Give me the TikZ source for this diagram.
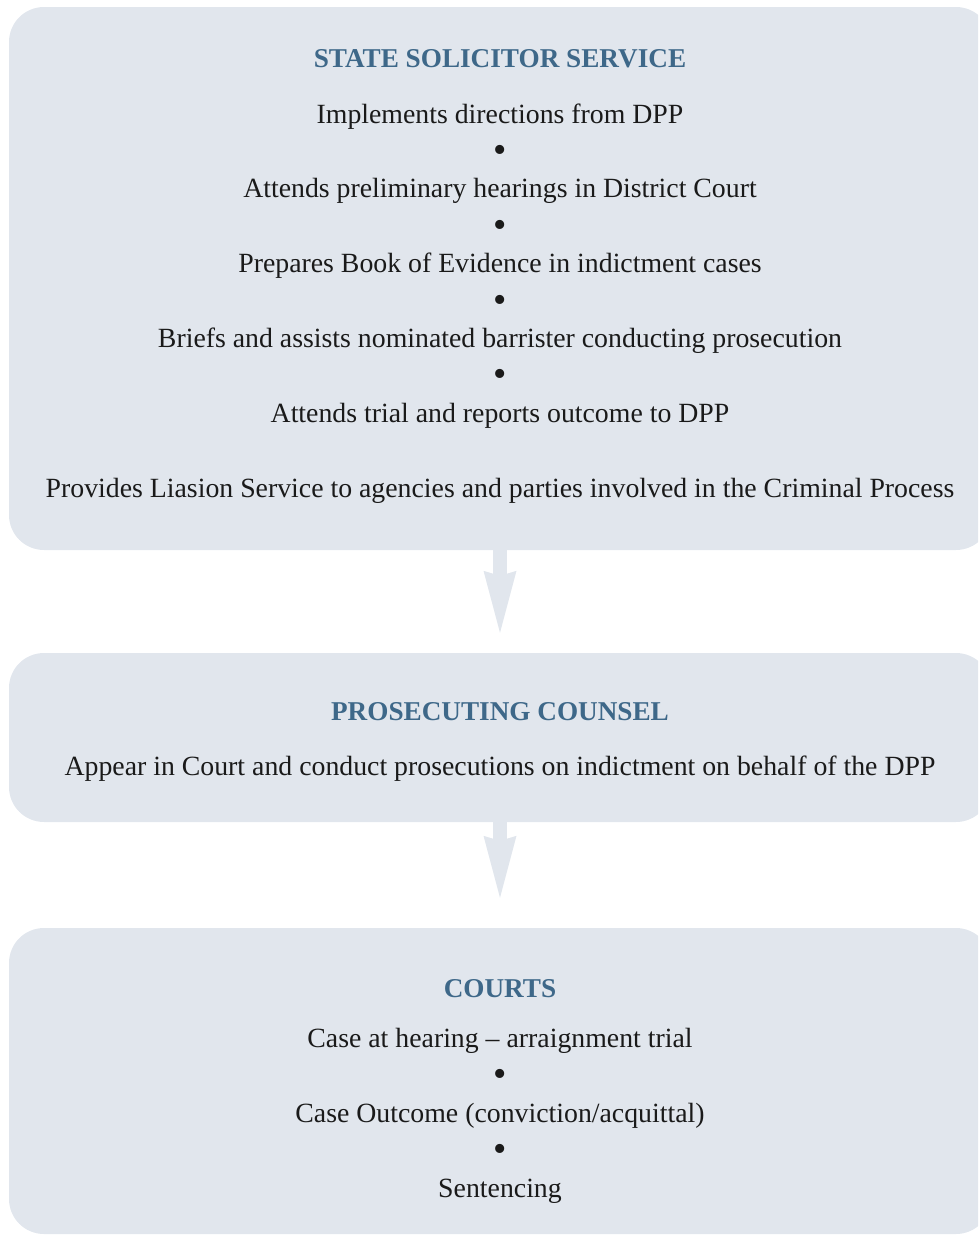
\documentclass[tikz,border=0pt]{standalone}
\usepackage{fontspec}
\setmainfont{Liberation Serif}
\usetikzlibrary{arrows.meta}
\definecolor{panelfill}{HTML}{E1E6ED}
\definecolor{headblue}{HTML}{3E6889}
\definecolor{bodyink}{HTML}{1A1A1A}
\tikzstyle{panel}=[
  fill=panelfill,
  rounded corners=35,
  minimum width=982,
  inner sep=0
]
\tikzstyle{headline}=[
  anchor=base,
  text=headblue,
  font=\fontsize{27.2}{32}\selectfont\bfseries
]
\tikzstyle{item}=[
  anchor=base,
  text=bodyink,
  font=\fontsize{27.8}{33}\selectfont
]
\tikzstyle{dot}=[
  inner sep=0,
  text=bodyink,
  font=\fontsize{38}{40}\selectfont
]
\tikzstyle{flow}=[
  draw=panelfill,
  line width=14,
  -{Stealth[length=62pt,width=33pt,inset=5pt,line width=0pt,fill=panelfill]}
]

\begin{document}
\begin{tikzpicture}[x=1pt,y=-1pt]
          \useasboundingbox (0,0) rectangle (978,1235);
          \clip (0,0) rectangle (978,1235);
          \def \x {500}
          \def \yOff {74.8}

          % panels
          \node[panel, minimum height=543] (ssp) at (\x, 278.5) {};
          \node[panel, minimum height=169] (pcp) at (\x, 737.5) {};
          \node[panel, minimum height=306] (crp) at (\x, 1081) {};

          % state solicitor
          \node[headline] (ssh) at (\x, 67) {STATE SOLICITOR SERVICE};
          \foreach \t [count=\i] in {Implements directions from DPP,
              Attends preliminary hearings in District Court,
              Prepares Book of Evidence in indictment cases,
              Briefs and assists nominated barrister conducting prosecution,
              Attends trial and reports outcome to DPP,
              Provides Liasion Service to agencies and parties involved in the Criminal Process}{
            \node[item] (ss\i) at (\x, 123 + \yOff*\i - \yOff) {\t};
          }
          \foreach \i in {1,...,4}{
            \node[dot] (ssd\i) at (\x, 154 + \yOff*\i - \yOff) {\textbullet};
          }

          % prosecuting counsel
          \node[headline] (pch) at (\x, 720.5) {PROSECUTING COUNSEL};
          \node[item] (pc1) at (\x, 775) {Appear in Court and conduct prosecutions on indictment on behalf of the DPP};

          % courts
          \node[headline] (crh) at (\x, 997.5) {COURTS};
          \foreach \t [count=\i] in {Case at hearing -- arraignment trial,
              Case Outcome (conviction/acquittal),
              Sentencing}{
            \node[item] (cr\i) at (\x, 1047 + 75*\i - 75) {\t};
          }
          \foreach \i in {1,2}{
            \node[dot] (crd\i) at (\x, 1078 + 75*\i - 75) {\textbullet};
          }

          % connect panels
          \draw[flow] (ssp.south) -- ([yshift=20pt]pcp.north);
          \draw[flow] (pcp.south) -- ([yshift=30pt]crp.north);
        \end{tikzpicture}
\end{document}
